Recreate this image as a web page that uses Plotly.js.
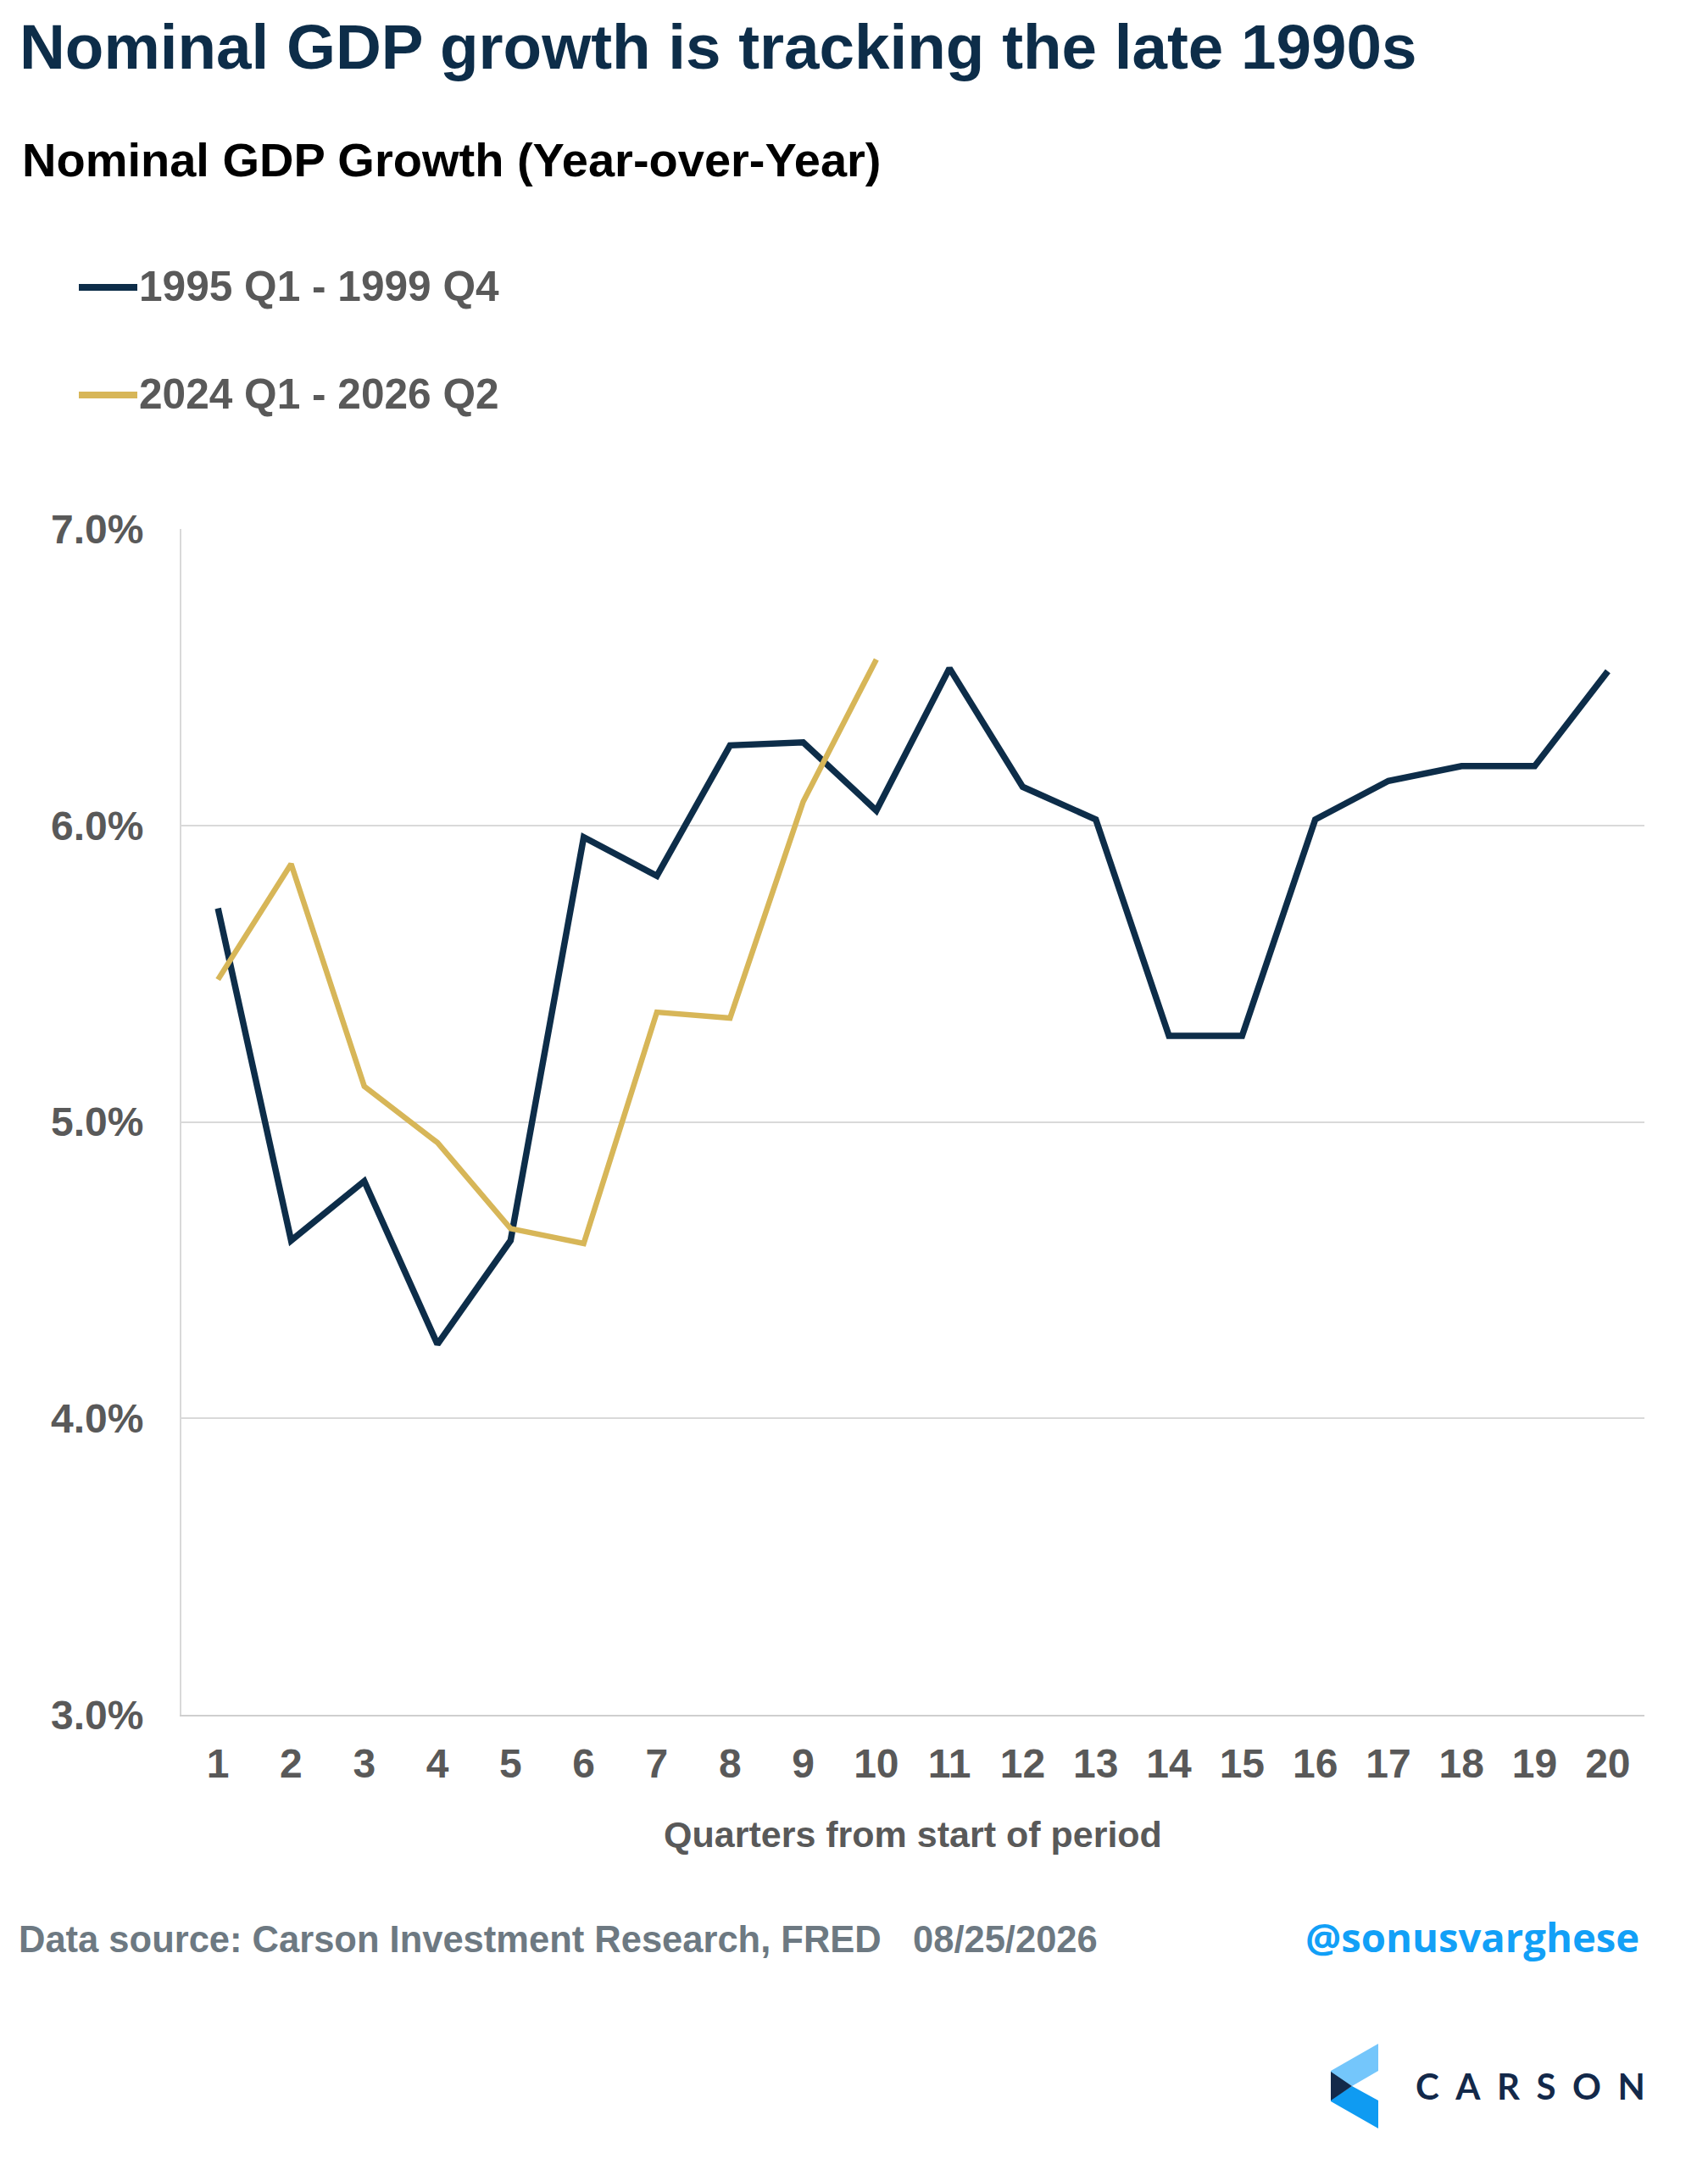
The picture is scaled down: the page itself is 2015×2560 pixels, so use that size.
<!DOCTYPE html>
<html>
<head>
<meta charset="utf-8">
<script src="https://cdn.plot.ly/plotly-3.0.1.min.js"></script>
<style>
  html, body { margin: 0; padding: 0; background: #ffffff; }
  #chart { width: 2015px; height: 2560px; }
</style>
</head>
<body>
<div id="chart"></div>
<script>
// ---------- data ----------
const quarters = [1,2,3,4,5,6,7,8,9,10,11,12,13,14,15,16,17,18,19,20];
const seriesNames = ["1995 Q1 - 1999 Q4", "2024 Q1 - 2026 Q2"];
const growth1990s = [5.72, 4.60, 4.80, 4.25, 4.60, 5.96, 5.83, 6.27, 6.28, 6.05,
                     6.53, 6.13, 6.02, 5.29, 5.29, 6.02, 6.15, 6.20, 6.20, 6.52];
const quarters2020s = [1,2,3,4,5,6,7,8,9,10];
const growth2020s = [5.48, 5.87, 5.12, 4.93, 4.64, 4.59, 5.37, 5.35, 6.08, 6.56];
const yTickVals = [3, 4, 5, 6, 7];
const yTickText = ["3.0%", "4.0%", "5.0%", "6.0%", "7.0%"];
const xTickText = ["1","2","3","4","5","6","7","8","9","10","11","12","13","14","15","16","17","18","19","20"];

const titleText = "Nominal GDP growth is tracking the late 1990s";
const subtitleText = "Nominal GDP Growth (Year-over-Year)";
const xAxisTitle = "Quarters from start of period";
const sourceText = "Data source: Carson Investment Research, FRED";
const dateText = "08/25/2026";
const handleText = "@sonusvarghese";
const brandText = "CARSON";

// ---------- styling ----------
const W = 2015, H = 2560;
const M = { l: 214, r: 75, t: 624, b: 537 };
const PW = W - M.l - M.r, PH = H - M.t - M.b;
const px2x = px => (px - M.l) / PW;
const py2y = py => (H - M.b - py) / PH;

const NAVY = "#0d2d49";
const GOLD = "#d7b658";
const GRAY = "#595959";
const FOOT = "#6d7982";
const FONT = "Liberation Sans, Arial, sans-serif";

const traces = [
  {
    x: quarters, y: growth1990s, name: seriesNames[0],
    type: "scatter", mode: "lines",
    line: { color: NAVY, width: 7.5 }
  },
  {
    x: quarters2020s, y: growth2020s, name: seriesNames[1],
    type: "scatter", mode: "lines",
    line: { color: GOLD, width: 6.5 }
  }
];

function ann(text, px, py, size, color, xanchor, extra) {
  return Object.assign({
    text: text, xref: "paper", yref: "paper",
    x: px2x(px), y: py2y(py), xanchor: xanchor || "left", yanchor: "middle",
    showarrow: false,
    font: { family: FONT, size: size, color: color, weight: 700 }
  }, extra || {});
}

const annotations = [
  ann(titleText, 21, 55, 74.6, NAVY),
  ann(subtitleText, 24, 188, 56, "#000000"),
  ann(seriesNames[0], 162, 337.5, 49.6, GRAY),
  ann(seriesNames[1], 162, 464.5, 49.6, GRAY),
  ann(sourceText, 20, 2287.5, 43.5, FOOT),
  ann(dateText, 1075, 2287.5, 43.5, FOOT),
  {
    text: handleText, xref: "paper", yref: "paper",
    x: px2x(1936), y: py2y(2285), xanchor: "right", yanchor: "middle",
    showarrow: false,
    font: { family: "Open Sans, sans-serif", size: 47.2, color: "#12a0f7", weight: 700 }
  },
  {
    text: '<span style="letter-spacing:19.5px">' + brandText + '</span>',
    xref: "paper", yref: "paper",
    x: px2x(1668), y: py2y(2461), xanchor: "left", yanchor: "middle",
    showarrow: false,
    font: { family: "Lato, sans-serif", size: 42, color: "#13294a", weight: 700 }
  }
];

function pathPx(pts) {
  return "M" + pts.map(p => px2x(p[0]) + "," + py2y(p[1])).join("L") + "Z";
}

const shapes = [
  { type: "line", xref: "paper", yref: "paper",
    x0: px2x(93), x1: px2x(162), y0: py2y(339), y1: py2y(339),
    line: { color: NAVY, width: 8 } },
  { type: "line", xref: "paper", yref: "paper",
    x0: px2x(93), x1: px2x(162), y0: py2y(466), y1: py2y(466),
    line: { color: GOLD, width: 8 } },
  // Carson logo mark
  { type: "path", xref: "paper", yref: "paper", line: { width: 0 }, fillcolor: "#74c6fb",
    path: pathPx([[1570,2443],[1626,2411],[1626,2443],[1595,2461],[1570,2446]]) },
  { type: "path", xref: "paper", yref: "paper", line: { width: 0 }, fillcolor: "#0f9bf2",
    path: pathPx([[1570,2477],[1595,2461],[1626,2478],[1626,2511],[1570,2479]]) },
  { type: "path", xref: "paper", yref: "paper", line: { width: 0 }, fillcolor: "#13294a",
    path: pathPx([[1570,2444],[1595,2461],[1570,2478]]) }
];

const layout = {
  width: W, height: H,
  margin: M,
  paper_bgcolor: "#ffffff", plot_bgcolor: "#ffffff",
  showlegend: false,
  font: { family: FONT, color: GRAY },
  xaxis: {
    range: [0.5, 20.5], tickmode: "array", tickvals: quarters, ticktext: xTickText,
    showgrid: false, zeroline: false,
    showline: true, linecolor: "#cfcfcf", linewidth: 2,
    ticks: "", ticklabelstandoff: 14,
    tickfont: { family: FONT, size: 48, color: GRAY, weight: 700 },
    title: { text: xAxisTitle, standoff: 43,
             font: { family: FONT, size: 43, color: GRAY, weight: 700 } },
    fixedrange: true
  },
  yaxis: {
    range: [3, 7], tickmode: "array", tickvals: yTickVals, ticktext: yTickText,
    showgrid: true, gridcolor: "#d9d9d9", gridwidth: 2,
    zeroline: false, showline: true, linecolor: "#d9d9d9", linewidth: 2,
    ticks: "", ticklabelstandoff: 33,
    tickfont: { family: FONT, size: 48, color: GRAY, weight: 700 },
    fixedrange: true
  },
  annotations: annotations,
  shapes: shapes
};

Plotly.newPlot("chart", traces, layout, { displayModeBar: false, staticPlot: true });
</script>
</body>
</html>
